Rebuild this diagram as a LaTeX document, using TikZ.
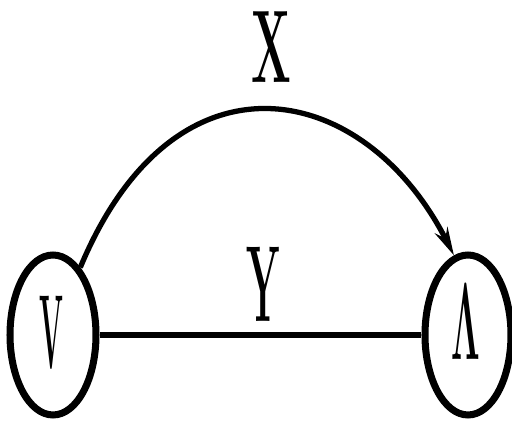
\documentclass[tikz,border=0pt]{standalone}
\usepackage{graphicx}
\usetikzlibrary{shapes.geometric,arrows.meta}
\begin{document}
\begin{tikzpicture}[x=0.02cm,y=-0.02cm,
  state/.style={draw, ellipse, line width=4pt, inner sep=0pt,
    minimum width=1.72cm, minimum height=3.2cm},
  edge/.style={line width=3pt},
  lbl/.style={inner sep=0pt, font=\fontsize{28}{30}\selectfont\bfseries}]
\fill[white] (0,0) rectangle (512,428);
\useasboundingbox (0,0) rectangle (512,428);
\node[state] (L) at (53,335) {};
\node[state] (R) at (468,335) {};
\node[inner sep=0pt, font=\fontsize{20}{22}\selectfont\bfseries] (lv) at (51,333) {\scalebox{0.8}[3]{V}};
\node[inner sep=0pt, font=\fontsize{20}{22}\selectfont] (rv) at (466,322) {\scalebox{1}[3]{$\mathbf{\Lambda}$}};
\draw[edge] (L.east) -- (R.west);
\draw[edge, -{Stealth[length=16pt,width=8pt]}] (L.68) .. controls (175,40) and (365,80) .. (R.100);
\node[lbl] (x) at (271,47) {\scalebox{0.95}[2.1]{X}};
\node[lbl] (y) at (263,284) {\scalebox{0.8}[2.2]{Y}};
\end{tikzpicture}
\end{document}
